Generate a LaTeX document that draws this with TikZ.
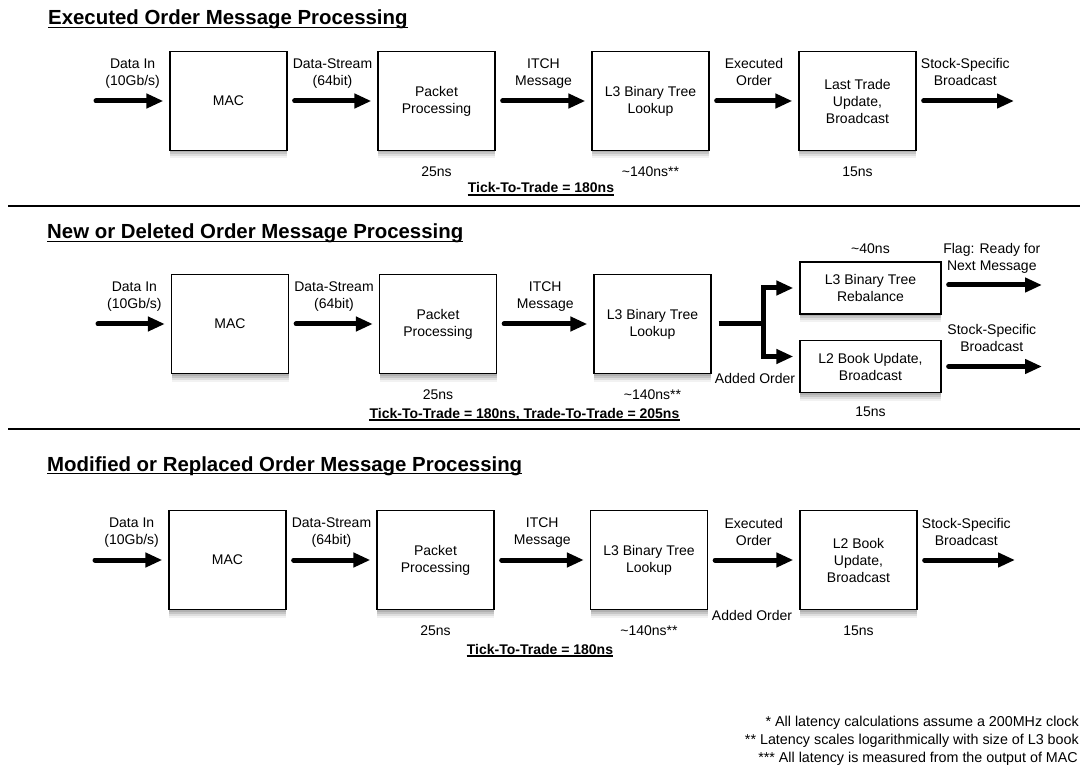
\documentclass[tikz,border=0pt]{standalone}
\usepackage{fontspec}
\setmainfont{Liberation Sans}
\usepackage{tikz}
\usetikzlibrary{arrows.meta,positioning,shadows,calc}

\begin{document}
\begin{tikzpicture}[
    x=1pt, y=-1pt,
    font=\fontsize{14}{17}\selectfont,
    blk/.style = {draw, line width=1.3pt, fill=white, align=center,
      minimum width=117pt, minimum height=99pt, inner sep=0pt,
      drop shadow={shadow xshift=0pt, shadow yshift=-2pt, opacity=.3},
      drop shadow={shadow xshift=0pt, shadow yshift=-4pt, opacity=.25},
      drop shadow={shadow xshift=0pt, shadow yshift=-6pt, opacity=.18},
      drop shadow={shadow xshift=0pt, shadow yshift=-8pt, opacity=.1}},
    sblk/.style = {blk, minimum width=141pt, minimum height=52pt},
    arr/.style = {line width=5pt, line cap=round,
      -{Triangle[length=17pt,width=14pt]}, shorten <=7pt, shorten >=6pt},
    lbl/.style = {align=center, inner sep=0pt},
    lat/.style = {inner sep=0pt, text height=10pt, text depth=3pt},
    ttl/.style = {font=\fontsize{20.4}{24}\selectfont\bfseries, inner sep=0pt, anchor=base west},
    tot/.style = {font=\fontsize{14}{17}\selectfont\bfseries, inner sep=0pt, anchor=base},
    fnt/.style = {font=\fontsize{14.3}{18}\selectfont, inner sep=0pt, anchor=base east},
    uln/.style = {line width=1.3pt},
    sep/.style = {line width=1.3pt}
  ]
  \useasboundingbox (0,0) rectangle (1082,767);

  % Executed order
  \node[ttl] (t1) at (48,25) {Executed Order Message Processing};
  \draw[uln] ([yshift=-2.5pt]t1.base west) -- ([yshift=-2.5pt]t1.base east);
  \node[blk] (mac1) at (228.5,101) {MAC};
  \node[blk] (pkt1) at (436.5,101) {Packet\\Processing};
  \node[blk] (lkp1) at (650.5,101) {L3 Binary Tree\\Lookup};
  \node[blk] (ltu1) at (857.5,101) {Last Trade\\Update,\\Broadcast};
  \coordinate (in1) at (96,101);
  \coordinate (out1) at (1014,101);
  \draw[arr, shorten <=0pt] (in1) -- node[lbl, above=8pt] {Data In\\(10Gb/s)\strut} (mac1);
  \draw[arr] (mac1) -- node[lbl, above=8pt] {Data-Stream\\(64bit)\strut} (pkt1);
  \draw[arr] (pkt1) -- node[lbl, above=8pt] {ITCH\\Message\strut} (lkp1);
  \draw[arr] (lkp1) -- node[lbl, above=8pt] {Executed\\Order\strut} (ltu1);
  \draw[arr, shorten >=0pt] (ltu1) -- node[lbl, above=8pt] {Stock-Specific\\Broadcast\strut} (out1);
  \node[lat, below=15pt of pkt1] (lp1) {25ns};
  \node[lat, below=15pt of lkp1] (ll1) {\textasciitilde140ns**};
  \node[lat, below=15pt of ltu1] (lu1) {15ns};
  \node[tot] (tt1) at (541,193) {Tick-To-Trade = 180ns};
  \draw[uln] ([yshift=-2pt]tt1.base west) -- ([yshift=-2pt]tt1.base east);
  \draw[sep] (8,206) -- (1080,206);

  % New or deleted order
  \node[ttl] (t2) at (47,239) {New or Deleted Order Message Processing};
  \draw[uln] ([yshift=-2.5pt]t2.base west) -- ([yshift=-2.5pt]t2.base east);
  \node[blk] (mac2) at (230,324) {MAC};
  \node[blk] (pkt2) at (438,324) {Packet\\Processing};
  \node[blk] (lkp2) at (652.5,324) {L3 Binary Tree\\Lookup};
  \node[sblk] (rbl2) at (870.5,288) {L3 Binary Tree\\Rebalance};
  \node[sblk] (l2u2) at (870.5,366.5) {L2 Book Update,\\Broadcast};
  \coordinate (in2) at (98,324);
  \coordinate (br2) at (763,324);
  \coordinate (flg2) at (1042,285);
  \coordinate (out2) at (1042,366.5);
  \draw[arr, shorten <=0pt] (in2) -- node[lbl, above=8pt] {Data In\\(10Gb/s)\strut} (mac2);
  \draw[arr] (mac2) -- node[lbl, above=8pt] {Data-Stream\\(64bit)\strut} (pkt2);
  \draw[arr] (pkt2) -- node[lbl, above=8pt] {ITCH\\Message\strut} (lkp2);
  \draw[arr, -, shorten >=0pt, line cap=butt] (lkp2) -- (br2);
  \draw[arr, shorten <=0pt, line cap=butt] (br2) |- (rbl2);
  \draw[arr, shorten <=0pt, line cap=butt] (br2) |- ([yshift=10pt]l2u2.west);
  \draw[arr, shorten >=0pt] (rbl2.east |- flg2) -- node[lbl, above=7pt] {Flag: Ready for\\Next Message\strut} (flg2);
  \draw[arr, shorten >=0pt] (l2u2) -- node[lbl, above=7pt] {Stock-Specific\\Broadcast\strut} (out2);
  \node (ad2) at (755,378) {Added Order};
  \node[lat, above=5pt of rbl2] (lr2) {\textasciitilde40ns};
  \node[lat, below=15pt of pkt2] (lp2) {25ns};
  \node[lat, below=15pt of lkp2] (ll2) {\textasciitilde140ns**};
  \node[lat, below=13pt of l2u2] (lu2) {15ns};
  \node[tot] (tt2) at (524.5,418) {Tick-To-Trade = 180ns, Trade-To-Trade = 205ns};
  \draw[uln] ([yshift=-2pt]tt2.base west) -- ([yshift=-2pt]tt2.base east);
  \draw[sep] (8,429) -- (1080,429);

  % Modified or replaced order
  \node[ttl] (t3) at (47,471) {Modified or Replaced Order Message Processing};
  \draw[uln] ([yshift=-2.5pt]t3.base west) -- ([yshift=-2.5pt]t3.base east);
  \node[blk] (mac3) at (227.5,560) {MAC};
  \node[blk] (pkt3) at (435.5,560) {Packet\\Processing};
  \node[blk] (lkp3) at (649,560) {L3 Binary Tree\\Lookup};
  \node[blk] (l2u3) at (858.5,560) {L2 Book\\Update,\\Broadcast};
  \coordinate (in3) at (95,560);
  \coordinate (out3) at (1015,560);
  \draw[arr, shorten <=0pt] (in3) -- node[lbl, above=8pt] {Data In\\(10Gb/s)\strut} (mac3);
  \draw[arr] (mac3) -- node[lbl, above=8pt] {Data-Stream\\(64bit)\strut} (pkt3);
  \draw[arr] (pkt3) -- node[lbl, above=8pt] {ITCH\\Message\strut} (lkp3);
  \draw[arr] (lkp3) -- node[lbl, above=7pt] {Executed\\Order\strut} (l2u3);
  \draw[arr, shorten >=0pt] (l2u3) -- node[lbl, above=7pt] {Stock-Specific\\Broadcast\strut} (out3);
  \node (ad3) at (752,615) {Added Order};
  \node[lat, below=15pt of pkt3] (lp3) {25ns};
  \node[lat, below=15pt of lkp3] (ll3) {\textasciitilde140ns**};
  \node[lat, below=15pt of l2u3] (lu3) {15ns};
  \node[tot] (tt3) at (540,654) {Tick-To-Trade = 180ns};
  \draw[uln] ([yshift=-2pt]tt3.base west) -- ([yshift=-2pt]tt3.base east);

  % notes
  \node[fnt] (fn1) at (1079,726) {* All latency calculations assume a 200MHz clock};
  \node[fnt] (fn2) at (1079,744) {** Latency scales logarithmically with size of L3 book};
  \node[fnt] (fn3) at (1078,762) {*** All latency is measured from the output of MAC};
\end{tikzpicture}
\end{document}
